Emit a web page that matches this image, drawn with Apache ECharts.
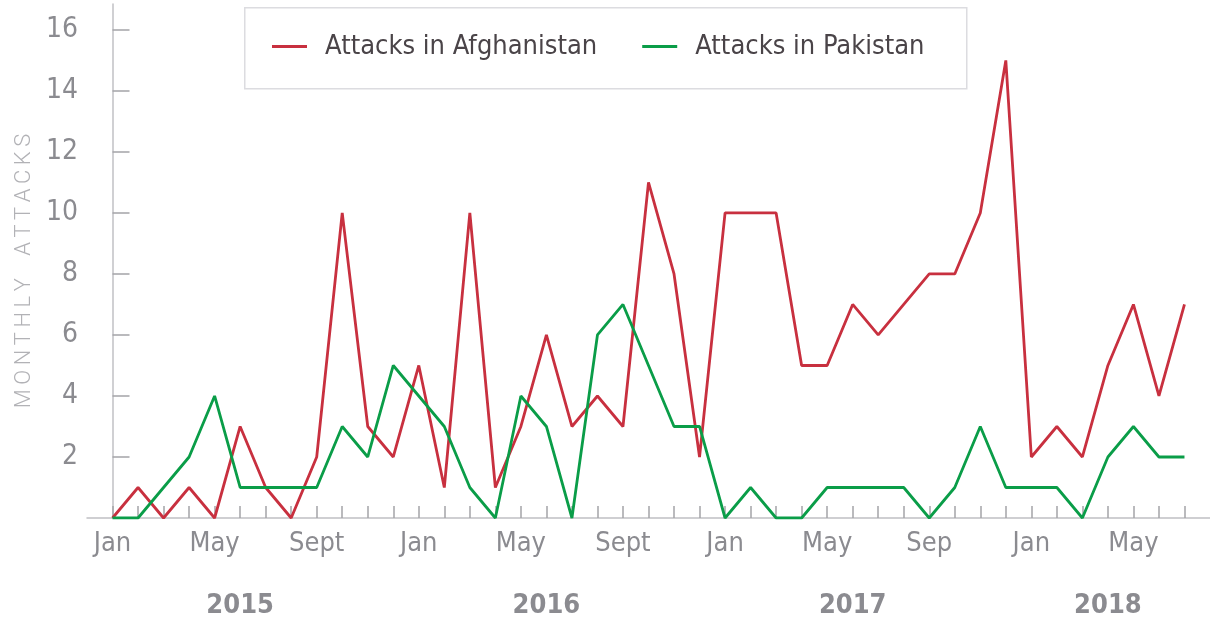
<!DOCTYPE html>
<html>
<head>
<meta charset="utf-8">
<script src="https://cdn.jsdelivr.net/npm/echarts@6/dist/echarts.min.js"></script>
<style>
html,body{margin:0;padding:0;background:#fff;}
#chart{width:1210px;height:623px;}
</style>
</head>
<body>
<div id="chart"></div>
<script>
var months = ['Jan','Feb','Mar','Apr','May','Jun','Jul','Aug','Sept','Oct','Nov','Dec',
  'Jan','Feb','Mar','Apr','May','Jun','Jul','Aug','Sept','Oct','Nov','Dec',
  'Jan','Feb','Mar','Apr','May','Jun','Jul','Aug','Sep','Oct','Nov','Dec',
  'Jan','Feb','Mar','Apr','May','Jun','Jul'];
var monthLabelIdx = [0,4,8,12,16,20,24,28,32,36,40];
var years = ['2015','2016','2017','2018'];
var yearIdx = [5,17,29,39];
var afghanistan = [0,1,0,1,0,3,1,0,2,10,3,2, 5,1,10,1,3,6,3,4,3,11,8,2, 10,10,10,5,5,7,6,7,8,8,10,15, 2,3,2,5,7,4,7];
var pakistan    = [0,0,1,2,4,1,1,1,1,3,2,5, 4,3,1,0,4,3,0,6,7,5,3,3, 0,1,0,0,1,1,1,1,0,1,3,1, 1,1,0,2,3,2,2];
var yTicks = [2,4,6,8,10,12,14,16];
var seriesNames = ['Attacks in Afghanistan','Attacks in Pakistan'];

var FONT = "'DejaVu Sans Condensed','DejaVu Sans',sans-serif";
var allIdx = months.map(function(_, i){ return i; });
function pairs(arr){ return arr.map(function(v,i){ return [i,v]; }); }

var chart = echarts.init(document.getElementById('chart'));
chart.setOption({
  animation:false,
  textStyle:{fontFamily:FONT},
  grid:{left:87, right:0, top:4, bottom:105, containLabel:false},
  legend:{
    left:272, top:33, itemWidth:35, itemHeight:3, itemGap:45,
    icon:'rect', padding:0,
    textStyle:{fontFamily:FONT, fontSize:27, color:'#4a4448', padding:[0,0,0,13]},
    data:seriesNames
  },
  graphic:[{
    type:'rect', left:244, top:7, z:-1,
    shape:{width:722, height:81},
    style:{fill:'#fff', stroke:'#dcdce0', lineWidth:1.5}
  }],
  xAxis:[{
    type:'value', min:-1, max:43,
    axisLine:{show:true, lineStyle:{color:'#c0c0c4', width:1.5}},
    axisTick:{show:true, inside:true, length:12, customValues:allIdx, lineStyle:{color:'#a4a4a8', width:1.5}},
    axisLabel:{show:true, customValues:monthLabelIdx, margin:12, fontSize:27, color:'#8b8b90', fontFamily:FONT,
      formatter:function(v){ return months[Math.round(v)]; }},
    splitLine:{show:false}
  },{
    type:'value', min:-1, max:43, position:'bottom',
    axisLine:{show:false}, axisTick:{show:false}, splitLine:{show:false},
    axisLabel:{show:true, customValues:yearIdx, margin:74, fontSize:27, fontWeight:'bold', color:'#8b8b90', fontFamily:FONT,
      formatter:function(v){ return years[yearIdx.indexOf(Math.round(v))]; }}
  }],
  yAxis:{
    type:'value', min:0, max:16.85,
    name:'M\u2009O\u2009N\u2009T\u2009H\u2009L\u2009Y\u2003A\u2009T\u2009T\u2009A\u2009C\u2009K\u2009S',
    nameLocation:'middle', nameRotate:90, nameGap:51,
    nameTextStyle:{fontFamily:"Roboto,sans-serif", fontWeight:300, fontSize:22, color:'#b2b2b6', padding:[0,20,0,0]},
    axisLine:{show:true, lineStyle:{color:'#c0c0c4', width:1.5}},
    axisTick:{show:true, inside:true, length:17, customValues:yTicks, lineStyle:{color:'#a4a4a8', width:1.5}},
    axisLabel:{show:true, customValues:yTicks, margin:9, fontSize:28, color:'#8b8b90', fontFamily:FONT},
    splitLine:{show:false}
  },
  series:[{
    name:seriesNames[0], type:'line', data:pairs(afghanistan), xAxisIndex:0,
    symbol:'none', lineStyle:{color:'#c8303f', width:2.8}, itemStyle:{color:'#c8303f'}, z:2
  },{
    name:seriesNames[1], type:'line', data:pairs(pakistan), xAxisIndex:0,
    symbol:'none', lineStyle:{color:'#0a9d48', width:2.8}, itemStyle:{color:'#0a9d48'}, z:3
  }]
});
</script>
</body>
</html>
